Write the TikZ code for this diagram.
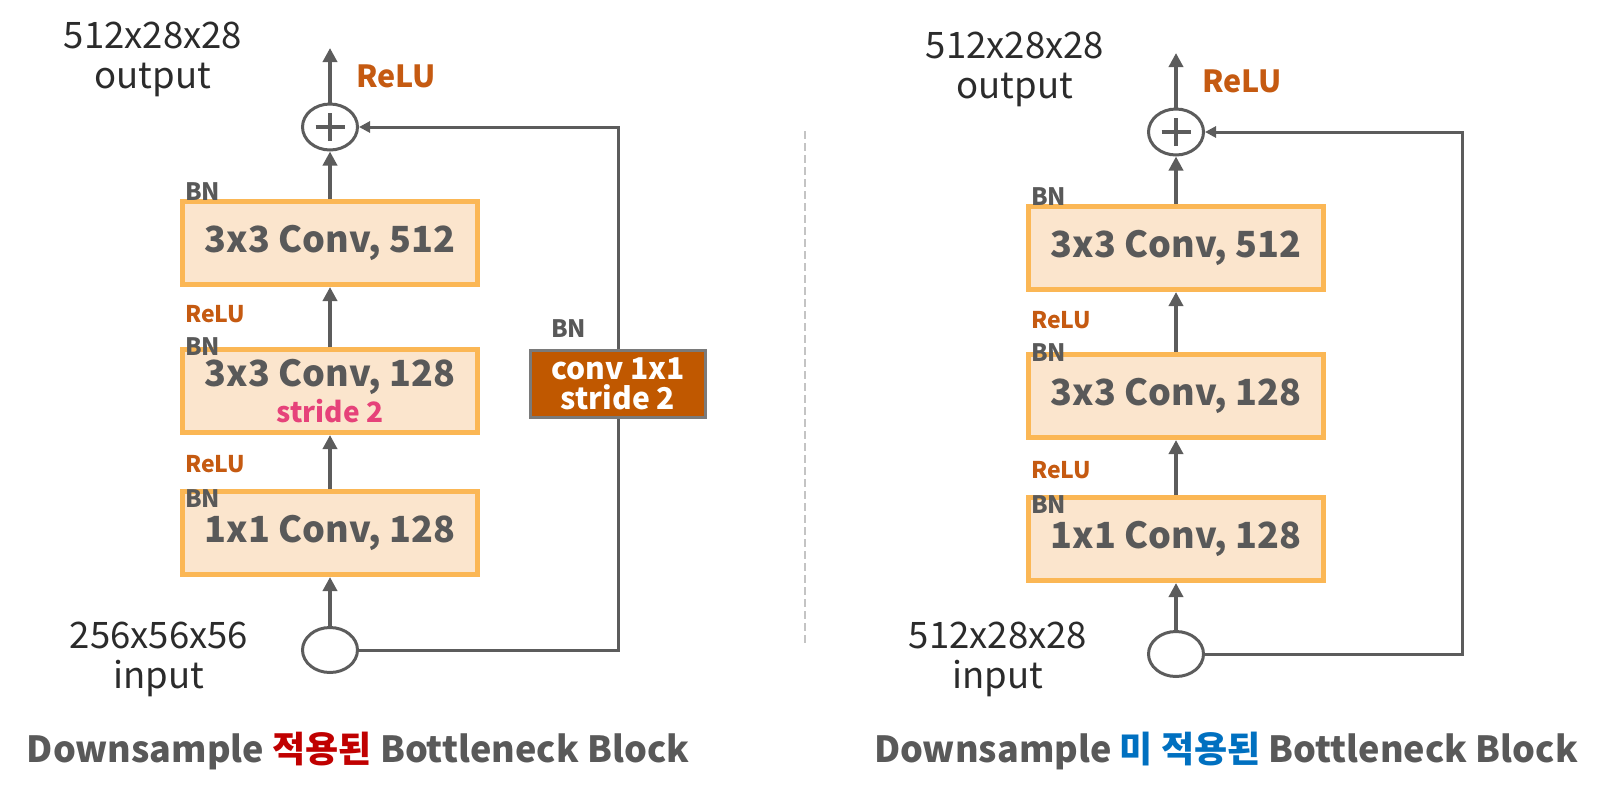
\documentclass[tikz,border=0pt]{standalone}
\usepackage{fontspec}
\setmainfont{Noto Sans CJK KR}
\usetikzlibrary{arrows.meta,shapes.geometric}
\definecolor{dimtext}{HTML}{2B2B2B}
\definecolor{graytext}{HTML}{595959}
\definecolor{relu}{HTML}{C55A11}
\definecolor{boxfill}{HTML}{FBE5CD}
\definecolor{boxborder}{HTML}{FBB755}
\definecolor{convfill}{HTML}{C05800}
\definecolor{convborder}{HTML}{7A7A7A}
\definecolor{stridepink}{HTML}{E6427A}
\definecolor{krred}{HTML}{C00000}
\definecolor{krblue}{HTML}{0070C0}
\definecolor{linegray}{HTML}{5C5C5C}
\definecolor{sepgray}{HTML}{C4C4C4}
\begin{document}
\begin{tikzpicture}[x=1pt,y=-1pt,
  convbox/.style={draw=boxborder,fill=boxfill,line width=5pt,minimum width=295pt,minimum height=83pt,inner sep=0pt,text=graytext,font=\fontsize{36}{42}\selectfont\bfseries,align=center},
  skipbox/.style={draw=convborder,fill=convfill,line width=3pt,minimum width=175pt,minimum height=67pt,inner sep=0pt,text=white,font=\fontsize{30}{30}\selectfont\bfseries,align=center},
  plusnode/.style={ellipse,draw=linegray,line width=3pt,minimum width=55pt,minimum height=46pt,inner sep=0pt,fill=white},
  innode/.style={ellipse,draw=linegray,line width=3pt,minimum width=55pt,minimum height=45pt,inner sep=0pt,fill=white},
  plusbar/.style={draw=linegray,line width=4pt},
  mainarrow/.style={draw=linegray,line width=4.5pt,-{Triangle[length=14pt,width=14pt]}},
  skipline/.style={draw=linegray,line width=3pt},
  skiparrow/.style={draw=linegray,line width=3pt,-{Triangle[length=11pt,width=11pt]}},
  dimlabel/.style={text=dimtext,font=\fontsize{36.5}{36.5}\selectfont,inner sep=0pt,anchor=base},
  bnlabel/.style={text=graytext,font=\fontsize{24}{24}\selectfont\bfseries,inner sep=0pt,anchor=base west},
  relusmall/.style={text=relu,font=\fontsize{23}{23}\selectfont\bfseries,inner sep=0pt,anchor=base west},
  relubig/.style={text=relu,font=\fontsize{30.5}{30.5}\selectfont\bfseries,inner sep=0pt,anchor=base west},
  caption/.style={text=graytext,font=\fontsize{36}{36}\selectfont\bfseries,inner sep=0pt,anchor=base},
  sepline/.style={draw=sepgray,line width=2pt,dash pattern=on 8pt off 4pt}
]
\useasboundingbox (0,0) rectangle (1609,793);

% ---------------- left block ----------------
\node[convbox] (a1) at (330,243) {3x3 Conv, 512};
\node[convbox] (a2) at (330,391) {3x3 Conv, 128\\[-6pt]{\color{stridepink}\fontsize{28}{28}\selectfont stride 2}};
\node[convbox] (a3) at (330,533) {1x1 Conv, 128};
\node[plusnode] (p1) at (330,127) {};
\draw[plusbar] ([xshift=-14.5pt]p1.center) -- ([xshift=14.5pt]p1.center);
\draw[plusbar] ([yshift=-14pt]p1.center) -- ([yshift=14pt]p1.center);
\node[innode] (i1) at (330,650) {};
\node[skipbox] (cb) at (618,384) {conv 1x1\\stride 2};
\coordinate (o1) at (330,48);

\draw[mainarrow] (i1.north) -- (a3.south);
\draw[mainarrow] (a3.north) -- (a2.south);
\draw[mainarrow] (a2.north) -- (a1.south);
\draw[mainarrow] (a1.north) -- (p1.south);
\draw[mainarrow] (p1.north) -- (o1);
\draw[skipline] (i1.east) -| (cb.south);
\draw[skiparrow] (cb.north) |- (p1.east);

\node[dimlabel] (od1) at (153,48) {512x28x28};
\node[dimlabel] (ot1) at (153,88) {output};
\node[dimlabel] (id1) at (159,648) {256x56x56};
\node[dimlabel] (it1) at (159,688) {input};
\node[relubig] (r0a) at (356,87) {ReLU};
\node[bnlabel] (b1a) at (185,200) {BN};
\node[relusmall] (r2a) at (185,322) {ReLU};
\node[bnlabel] (b2a) at (185,355) {BN};
\node[relusmall] (r3a) at (185,472) {ReLU};
\node[bnlabel] (b3a) at (185,507) {BN};
\node[bnlabel] (bca) at (551,337) {BN};
\node[caption] (cap1) at (358,762) {Downsample {\color{krred}적용된} Bottleneck Block};

% separator
\draw[sepline] (805,131) -- (805,644);

% ---------------- right block ----------------
\node[convbox] (b1) at (1176,248) {3x3 Conv, 512};
\node[convbox] (b2) at (1176,396) {3x3 Conv, 128};
\node[convbox] (b3) at (1176,539) {1x1 Conv, 128};
\node[plusnode] (p2) at (1176,132) {};
\draw[plusbar] ([xshift=-14.5pt]p2.center) -- ([xshift=14.5pt]p2.center);
\draw[plusbar] ([yshift=-14pt]p2.center) -- ([yshift=14pt]p2.center);
\node[innode] (i2) at (1176,654) {};
\coordinate (o2) at (1176,53);
\coordinate (c2) at (1462,654);

\draw[mainarrow] (i2.north) -- (b3.south);
\draw[mainarrow] (b3.north) -- (b2.south);
\draw[mainarrow] (b2.north) -- (b1.south);
\draw[mainarrow] (b1.north) -- (p2.south);
\draw[mainarrow] (p2.north) -- (o2);
\draw[skiparrow] (i2.east) -- (c2) |- (p2.east);

\node[dimlabel] (od2) at (1015,58) {512x28x28};
\node[dimlabel] (ot2) at (1015,98) {output};
\node[dimlabel] (id2) at (998,648) {512x28x28};
\node[dimlabel] (it2) at (998,688) {input};
\node[relubig] (r0b) at (1202,92) {ReLU};
\node[bnlabel] (b1b) at (1031,205) {BN};
\node[relusmall] (r2b) at (1031,328) {ReLU};
\node[bnlabel] (b2b) at (1031,361) {BN};
\node[relusmall] (r3b) at (1031,478) {ReLU};
\node[bnlabel] (b3b) at (1031,513) {BN};
\node[caption] (cap2) at (1226,762) {Downsample {\color{krblue}미 적용된} Bottleneck Block};
\end{tikzpicture}
\end{document}
